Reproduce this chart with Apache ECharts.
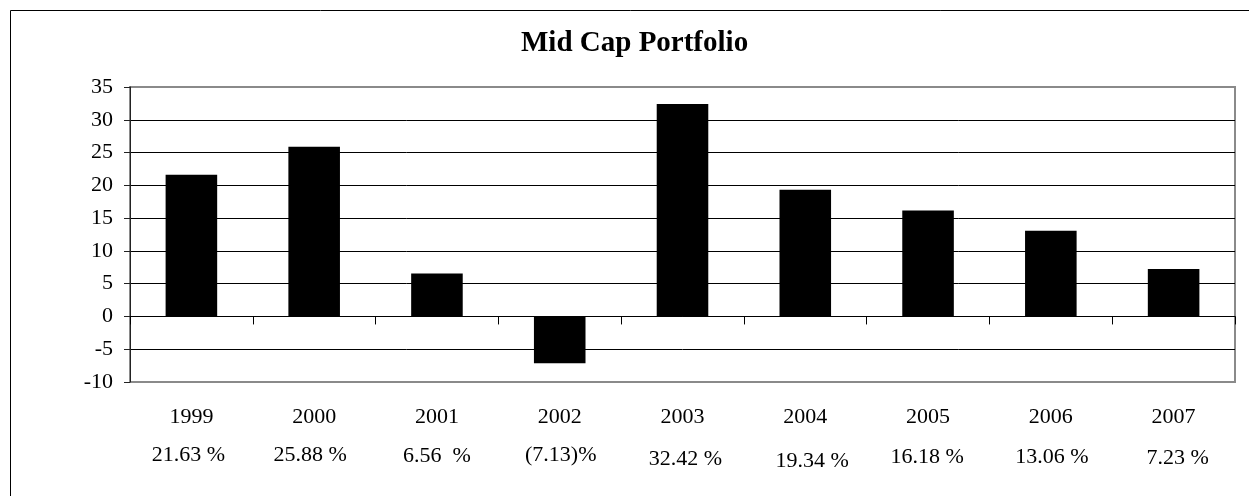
<!DOCTYPE html>
<html>
<head>
<meta charset="utf-8">
<script src="https://cdn.jsdelivr.net/npm/echarts@6/dist/echarts.min.js"></script>
<style>
  html, body { margin: 0; padding: 0; background: #fff; }
  #chart { width: 1249px; height: 496px; }
</style>
</head>
<body>
<div id="chart"></div>
<script>
// ---- data ----
const chartTitle = 'Mid Cap Portfolio';
const years = ['1999', '2000', '2001', '2002', '2003', '2004', '2005', '2006', '2007'];
const returns = [21.63, 25.88, 6.56, -7.13, 32.42, 19.34, 16.18, 13.06, 7.23];
const returnLabels = ['21.63 %', '25.88 %', '6.56  %', '(7.13)%', '32.42 %', '19.34 %', '16.18 %', '13.06 %', '7.23 %'];
const yTicks = { min: -10, max: 35, interval: 5 };

// ---- layout (label nudges, px) ----
const pctShiftY = [0, 0, 3, 0, 8, 13, 5, 4, 7];
const pctShiftX = [-3, -4, 0, 1, 3, 7, -1, 1, 4];

const FONT = "'Liberation Serif', 'Times New Roman', serif";

const rich = {};
returnLabels.forEach((_, i) => {
  const dx = pctShiftX[i];
  rich['p' + i] = {
    fontFamily: FONT, fontSize: 22, lineHeight: 22, color: '#000',
    padding: [pctShiftY[i], dx < 0 ? -2 * dx : 0, 0, dx > 0 ? 2 * dx : 0]
  };
});

const chart = echarts.init(document.getElementById('chart'), null, { renderer: 'canvas' });
chart.setOption({
  animation: false,
  backgroundColor: '#fff',
  title: {
    text: chartTitle,
    left: 521, top: 29, padding: 0,
    textStyle: { fontFamily: FONT, fontSize: 29, fontWeight: 'bold', color: '#000', lineHeight: 29 }
  },
  graphic: [{
    type: 'rect', silent: true, z: 100,
    shape: { x: 10.5, y: 10.5, width: 1260, height: 520 },
    style: { fill: 'none', stroke: '#000', lineWidth: 1 }
  }],
  grid: {
    left: 130, right: 14, top: 87, bottom: 114,
    show: true, borderColor: '#8a8a8a', borderWidth: 2, backgroundColor: 'transparent'
  },
  xAxis: [
    {
      type: 'category', data: years, position: 'bottom',
      axisLine: { show: true, onZero: true, lineStyle: { color: '#000', width: 1 } },
      axisTick: { show: true, length: 8, lineStyle: { color: '#000' } },
      axisLabel: { show: false },
      splitLine: { show: false }
    },
    {
      type: 'category', data: years, position: 'bottom',
      axisLine: { show: false, onZero: false },
      axisTick: { show: false },
      axisLabel: { margin: 24, fontFamily: FONT, fontSize: 22, lineHeight: 22, color: '#000' }
    },
    {
      type: 'category', data: years, position: 'bottom',
      axisLine: { show: false, onZero: false },
      axisTick: { show: false },
      axisLabel: {
        margin: 62,
        formatter: (v, i) => '{p' + i + '|' + returnLabels[i] + '}',
        rich: rich
      }
    }
  ],
  yAxis: {
    type: 'value', min: yTicks.min, max: yTicks.max, interval: yTicks.interval,
    axisLine: { show: true, lineStyle: { color: '#222', width: 1 } },
    axisTick: { show: true, length: 6, lineStyle: { color: '#222' } },
    axisLabel: { margin: 17, fontFamily: FONT, fontSize: 22, color: '#000' },
    splitLine: { show: true, showMinLine: false, showMaxLine: false, lineStyle: { color: '#000', width: 1 } }
  },
  series: [{
    type: 'bar', xAxisIndex: 0, data: returns,
    barWidth: '42%',
    itemStyle: { color: '#000' }
  }]
});
</script>
</body>
</html>
